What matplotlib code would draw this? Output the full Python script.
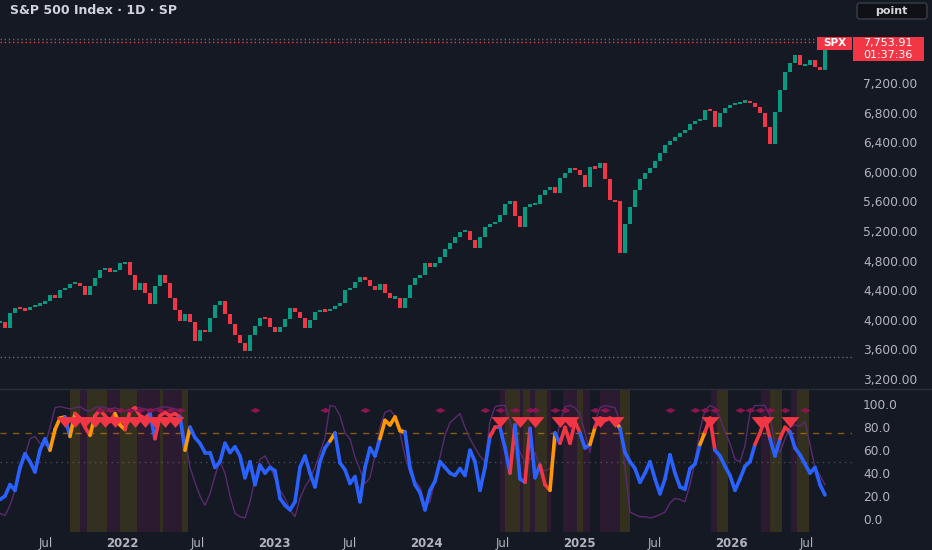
import numpy as np
import pandas as pd
import matplotlib
matplotlib.use("Agg")
import matplotlib.pyplot as plt
import matplotlib.dates as mdates
from matplotlib.collections import LineCollection
from matplotlib.patches import FancyBboxPatch, Rectangle
from matplotlib.path import Path
from matplotlib.lines import Line2D
from matplotlib.transforms import Affine2D

# ---------------- data ----------------
title = "S&P 500 Index · 1D · SP"
symbol = "SPX"
start_date = "2021-03-13"
bar_step_days = 12

close = [
    3975, 3890, 4093, 4160, 4150, 4130, 4170, 4200, 4215, 4250,
    4335, 4290, 4405, 4430, 4490, 4500, 4450, 4335, 4450, 4560,
    4674, 4700, 4640, 4674, 4765, 4780, 4600, 4400, 4500, 4365,
    4220, 4450, 4606, 4500, 4300, 4130, 3980, 4080, 3975, 3720,
    3860, 3830, 4030, 4200, 4250, 4080, 3940, 3800, 3680, 3580,
    3800, 3920, 4030, 4020, 3900, 3830, 3900, 4010, 4160, 4110,
    4025, 3890, 3998, 4110, 4133, 4120, 4150, 4180, 4228, 4405,
    4430, 4515, 4585, 4540, 4450, 4405, 4480, 4360, 4300, 4300,
    4160, 4300, 4470, 4560, 4600, 4765, 4720, 4770, 4850, 4950,
    5040, 5124, 5190, 5200, 5080, 4967, 5124, 5260, 5290, 5320,
    5420, 5560, 5600, 5400, 5250, 5530, 5560, 5560, 5690, 5750,
    5800, 5710, 5912, 5980, 6050, 6030, 5960, 5800, 6070, 6048,
    6115, 5900, 5619, 5600, 4900, 5300, 5530, 5750, 5900, 5980,
    6050, 6150, 6260, 6360, 6420, 6470, 6520, 6570, 6640, 6690,
    6700, 6840, 6820, 6600, 6800, 6860, 6900, 6925, 6940, 6960,
    6930, 6880, 6790, 6610, 6380, 6812, 7105, 7353, 7466, 7578,
    7440, 7443, 7510, 7420, 7380, 7754,
]

osc_fast = [
    17, 20, 30, 25, 45, 57, 50, 41, 60, 70,
    60, 78, 88, 89, 72, 92, 88, 80, 73, 90,
    95, 90, 85, 92, 82, 78, 94, 97, 90, 88,
    92, 70, 90, 93, 90, 92, 89, 60, 80, 71,
    66, 58, 58, 45, 50, 66, 58, 63, 55, 36,
    50, 30, 47, 40, 45, 42, 18, 12, 8, 15,
    45, 55, 40, 28, 50, 62, 68, 75, 49, 43,
    31, 37, 15, 45, 62, 55, 70, 86, 82, 89,
    77, 76, 45, 30, 23, 8, 25, 33, 50, 45,
    40, 38, 44, 38, 60, 50, 25, 45, 72, 80,
    80, 62, 40, 82, 35, 32, 79, 36, 47, 30,
    25, 75, 66, 80, 66, 85, 75, 62, 65, 80,
    88, 86, 88, 86, 79, 58, 50, 44, 32, 40,
    50, 35, 22, 35, 56, 40, 28, 26, 44, 48,
    65, 76, 88, 60, 55, 46, 38, 25, 35, 46,
    50, 65, 75, 88, 70, 55, 70, 80, 76, 62,
    56, 48, 40, 45, 30, 21,
]

osc_slow = [
    5, 3, 12, 25, 41, 55, 70, 72, 66, 64,
    80, 97, 98, 97, 96, 97, 98, 95, 94, 97,
    98, 97, 96, 97, 95, 94, 96, 98, 97, 96,
    95, 96, 97, 98, 97, 96, 95, 70, 45, 32,
    20, 12, 22, 38, 50, 40, 20, 5, 2, 1,
    15, 35, 52, 55, 47, 35, 25, 18, 8, 2,
    18, 28, 35, 45, 58, 71, 99, 98, 90, 75,
    70, 54, 43, 31, 36, 55, 80, 93, 95, 90,
    75, 55, 40, 33, 28, 12, 15, 35, 54, 73,
    84, 88, 92, 80, 70, 62, 55, 50, 85, 98,
    99, 99, 85, 70, 58, 50, 52, 58, 44, 42,
    44, 60, 85, 98, 99, 97, 92, 75, 58, 85,
    97, 99, 98, 97, 85, 45, 6, 4, 2, 2,
    1, 2, 4, 6, 14, 18, 17, 15, 30, 50,
    78, 95, 99, 97, 88, 76, 66, 52, 50, 64,
    93, 99, 99, 99, 90, 65, 58, 70, 80, 82,
    81, 85, 65, 45, 38, 30,
]

last_price = 7753.91
countdown = "01:37:36"
range_high = 7795.0
range_low = 3492.0
overbought = 75
midline = 50
signal_level = 85
alert_level = 95

sell_signal_bars = [13, 15, 17, 19, 21, 23, 25, 27, 29, 31, 33, 35,
                    100, 104, 107, 112, 114, 120, 123, 142, 152, 153, 158]
alert_bars = [20, 22, 24, 26, 28, 30, 32, 34, 36, 51, 65, 73, 88,
              97, 100, 103, 106, 107, 111, 113, 119, 121, 134,
              139, 141, 143, 148, 150, 152, 154, 157, 161]
extreme_spans = [(16, 18), (20, 23), (26, 30), (32, 36),
                 (99, 100), (103, 103), (106, 106), (109, 110),
                 (113, 116), (120, 123), (142, 143), (152, 154), (157, 158)]

regimes = [
    ("2021-08-28", "2021-09-21", "caution"), ("2021-09-21", "2021-10-08", "extreme"),
    ("2021-10-08", "2021-11-25", "caution"), ("2021-11-25", "2021-12-26", "extreme"),
    ("2021-12-26", "2022-02-05", "caution"), ("2022-02-05", "2022-04-01", "extreme"),
    ("2022-04-01", "2022-04-08", "caution"), ("2022-04-08", "2022-05-24", "extreme"),
    ("2022-05-24", "2022-06-07", "caution"),
    ("2024-06-26", "2024-07-07", "extreme"), ("2024-07-07", "2024-08-12", "caution"),
    ("2024-08-12", "2024-08-19", "extreme"), ("2024-08-19", "2024-09-05", "caution"),
    ("2024-09-05", "2024-09-17", "extreme"), ("2024-09-17", "2024-10-16", "caution"),
    ("2024-10-16", "2024-10-25", "extreme"),
    ("2024-11-23", "2024-12-27", "extreme"), ("2024-12-27", "2025-01-10", "caution"),
    ("2025-01-10", "2025-01-27", "extreme"),
    ("2025-02-20", "2025-04-09", "extreme"), ("2025-04-09", "2025-05-03", "caution"),
    ("2025-11-13", "2025-11-28", "extreme"), ("2025-11-28", "2025-12-24", "caution"),
    ("2026-03-13", "2026-04-04", "extreme"), ("2026-04-04", "2026-05-03", "caution"),
    ("2026-05-24", "2026-06-08", "extreme"), ("2026-06-08", "2026-07-07", "caution"),
]

price_ticks = [3200, 3600, 4000, 4400, 4800, 5200, 5600, 6000, 6400, 6800, 7200]
osc_ticks = [0, 20, 40, 60, 80, 100]
time_ticks = ["2021-07-01", "2022-01-01", "2022-07-01", "2023-01-01", "2023-07-01",
              "2024-01-01", "2024-07-01", "2025-01-01", "2025-07-01", "2026-01-01",
              "2026-07-01"]
time_labels = ["Jul", "2022", "Jul", "2023", "Jul", "2024", "Jul", "2025", "Jul", "2026", "Jul"]

# ---------------- style ----------------
BG = "#151924"
GREEN = "#089981"
RED = "#f23645"
BLUE = "#2962ff"
ORANGE = "#ff9800"
PURPLE = "#5a2a6e"
MAGENTA = "#8a1550"
TXT = "#b2b5be"
BAND = {"caution": "#34301f", "extreme": "#2c1a30"}

W, H = 932, 550
fig = plt.figure(figsize=(W / 100, H / 100), dpi=100, facecolor=BG)
PX = Affine2D().scale(1 / W, -1 / H).translate(0, 1) + fig.transFigure

dates = pd.date_range(start_date, periods=len(close), freq=f"{bar_step_days}D")
dn = mdates.date2num(dates)
x0 = mdates.date2num(pd.Timestamp(start_date))
xlim = (x0, x0 + 852 * 2.4)

ax = fig.add_axes([0, 1 - 388 / H, 852 / W, 388 / H], facecolor=BG)
ax2 = fig.add_axes([0, 1 - 532 / H, 852 / W, 142 / H], facecolor=BG)

for a in (ax, ax2):
    for s in a.spines.values():
        s.set_visible(False)
    a.set_xlim(*xlim)

# ---- price panel (candles: open = previous close) ----
c = np.array(close, float)
o = np.r_[c[0], c[:-1]]
up = c >= o
lo = np.minimum(o, c)
hi = np.maximum(o, c)
min_body = 30.0  # visual minimum body height in price units
pad = np.clip(min_body - (hi - lo), 0, None) / 2
lo, hi = lo - pad, hi + pad
ax.bar(dn[up], (hi - lo)[up], bottom=lo[up], width=8.5, color=GREEN, linewidth=0, zorder=3)
ax.bar(dn[~up], (hi - lo)[~up], bottom=lo[~up], width=8.5, color=RED, linewidth=0, zorder=3)

ax.axhline(range_high, color="#787b86", lw=1, ls=(0, (1, 2)), alpha=0.8, zorder=1)
ax.axhline(range_low, color="#787b86", lw=1, ls=(0, (1, 2)), alpha=0.8, zorder=1)
ax.axhline(last_price, color=RED, lw=1, ls=(0, (1, 2)), xmax=817 / 852, zorder=1)

ax.set_ylim(3078.2, 8321.6)
ax.yaxis.tick_right()
ax.set_yticks(price_ticks)
ax.set_yticklabels([f"{v:,.2f}" for v in price_ticks])
ax.tick_params(axis="y", length=0, pad=8, labelsize=8.8, labelcolor=TXT)
ax.set_xticks([])

# ---- oscillator panel ----
for s, e, k in regimes:
    ax2.axvspan(mdates.date2num(pd.Timestamp(s)), mdates.date2num(pd.Timestamp(e)),
                color=BAND[k], lw=0, zorder=0)
ax2.axhline(overbought, color=ORANGE, alpha=0.5, lw=1, ls=(0, (4.5, 4.5)), zorder=1)
ax2.axhline(midline, color="#787b86", alpha=0.5, lw=1, ls=(0, (1, 3)), zorder=1)
ax2.plot(dn, osc_slow, color=PURPLE, lw=1.0, zorder=2)

f = np.array(osc_fast, float)
segs, cols = [], []
for i in range(1, len(f)):
    segs.append([(dn[i - 1], f[i - 1]), (dn[i], f[i])])
    if any(a <= i <= b for a, b in extreme_spans):
        cols.append(RED)
    elif f[i] >= overbought:
        cols.append(ORANGE)
    else:
        cols.append(BLUE)
ax2.add_collection(LineCollection(segs, colors=cols, linewidths=2.6,
                                  capstyle="round", joinstyle="round", zorder=3))

tri = Path([(-1, 0.6), (1, 0.6), (0, -0.6), (-1, 0.6)],
           [Path.MOVETO, Path.LINETO, Path.LINETO, Path.CLOSEPOLY])
dia = Path([(-1, 0), (0, 0.5), (1, 0), (0, -0.5), (-1, 0)],
           [Path.MOVETO, Path.LINETO, Path.LINETO, Path.LINETO, Path.CLOSEPOLY])
ax2.plot(dn[alert_bars], [alert_level] * len(alert_bars), ls="none", marker=dia,
         ms=7.5, color=MAGENTA, mew=0, zorder=4)
ax2.plot(dn[sell_signal_bars], [signal_level] * len(sell_signal_bars), ls="none",
         marker=tri, ms=13, color=RED, mew=0, zorder=5)

ax2.set_ylim(-11.3, 112.5)
ax2.yaxis.tick_right()
ax2.set_yticks(osc_ticks)
ax2.set_yticklabels([f"{v:.1f}" for v in osc_ticks])
ax2.tick_params(axis="y", length=0, pad=8, labelsize=8.8, labelcolor=TXT)
ax2.set_xticks(mdates.date2num(pd.to_datetime(time_ticks)))
ax2.set_xticklabels(time_labels)
ax2.tick_params(axis="x", length=0, pad=3.5, labelsize=8.5, labelcolor=TXT)
for lab in ax2.get_xticklabels():
    if lab.get_text().isdigit():
        lab.set_fontweight("bold")

# ---- overlays ----
fig.add_artist(Line2D([0, W], [389, 389], transform=PX, color="#2a2e39", lw=1))
fig.text(10, 11, title, transform=PX, ha="left", va="center", color="#d1d4dc",
         size=9, weight="bold")

fig.add_artist(FancyBboxPatch((857, 3), 70, 16, boxstyle="round,pad=0,rounding_size=3",
                              transform=PX, fc="#0f1117", ec="#3a3e4a", lw=1))
fig.text(891, 11, "point", transform=PX, ha="center", va="center", color="#d1d4dc",
         size=8, weight="bold")

fig.add_artist(Rectangle((817, 37), 35, 13, transform=PX, color=RED, lw=0))
fig.text(834.5, 43.5, symbol, transform=PX, ha="center", va="center", color="white",
         size=7.5, weight="bold")
fig.add_artist(Rectangle((853, 37), 71, 24, transform=PX, color=RED, lw=0))
fig.text(863, 43.0, f"{last_price:,.2f}", transform=PX, ha="left", va="center",
         color="white", size=8.0)
fig.text(863, 54.5, countdown, transform=PX, ha="left", va="center", color="white", size=8.0)

fig.savefig("out.png", dpi=100, facecolor=BG)
